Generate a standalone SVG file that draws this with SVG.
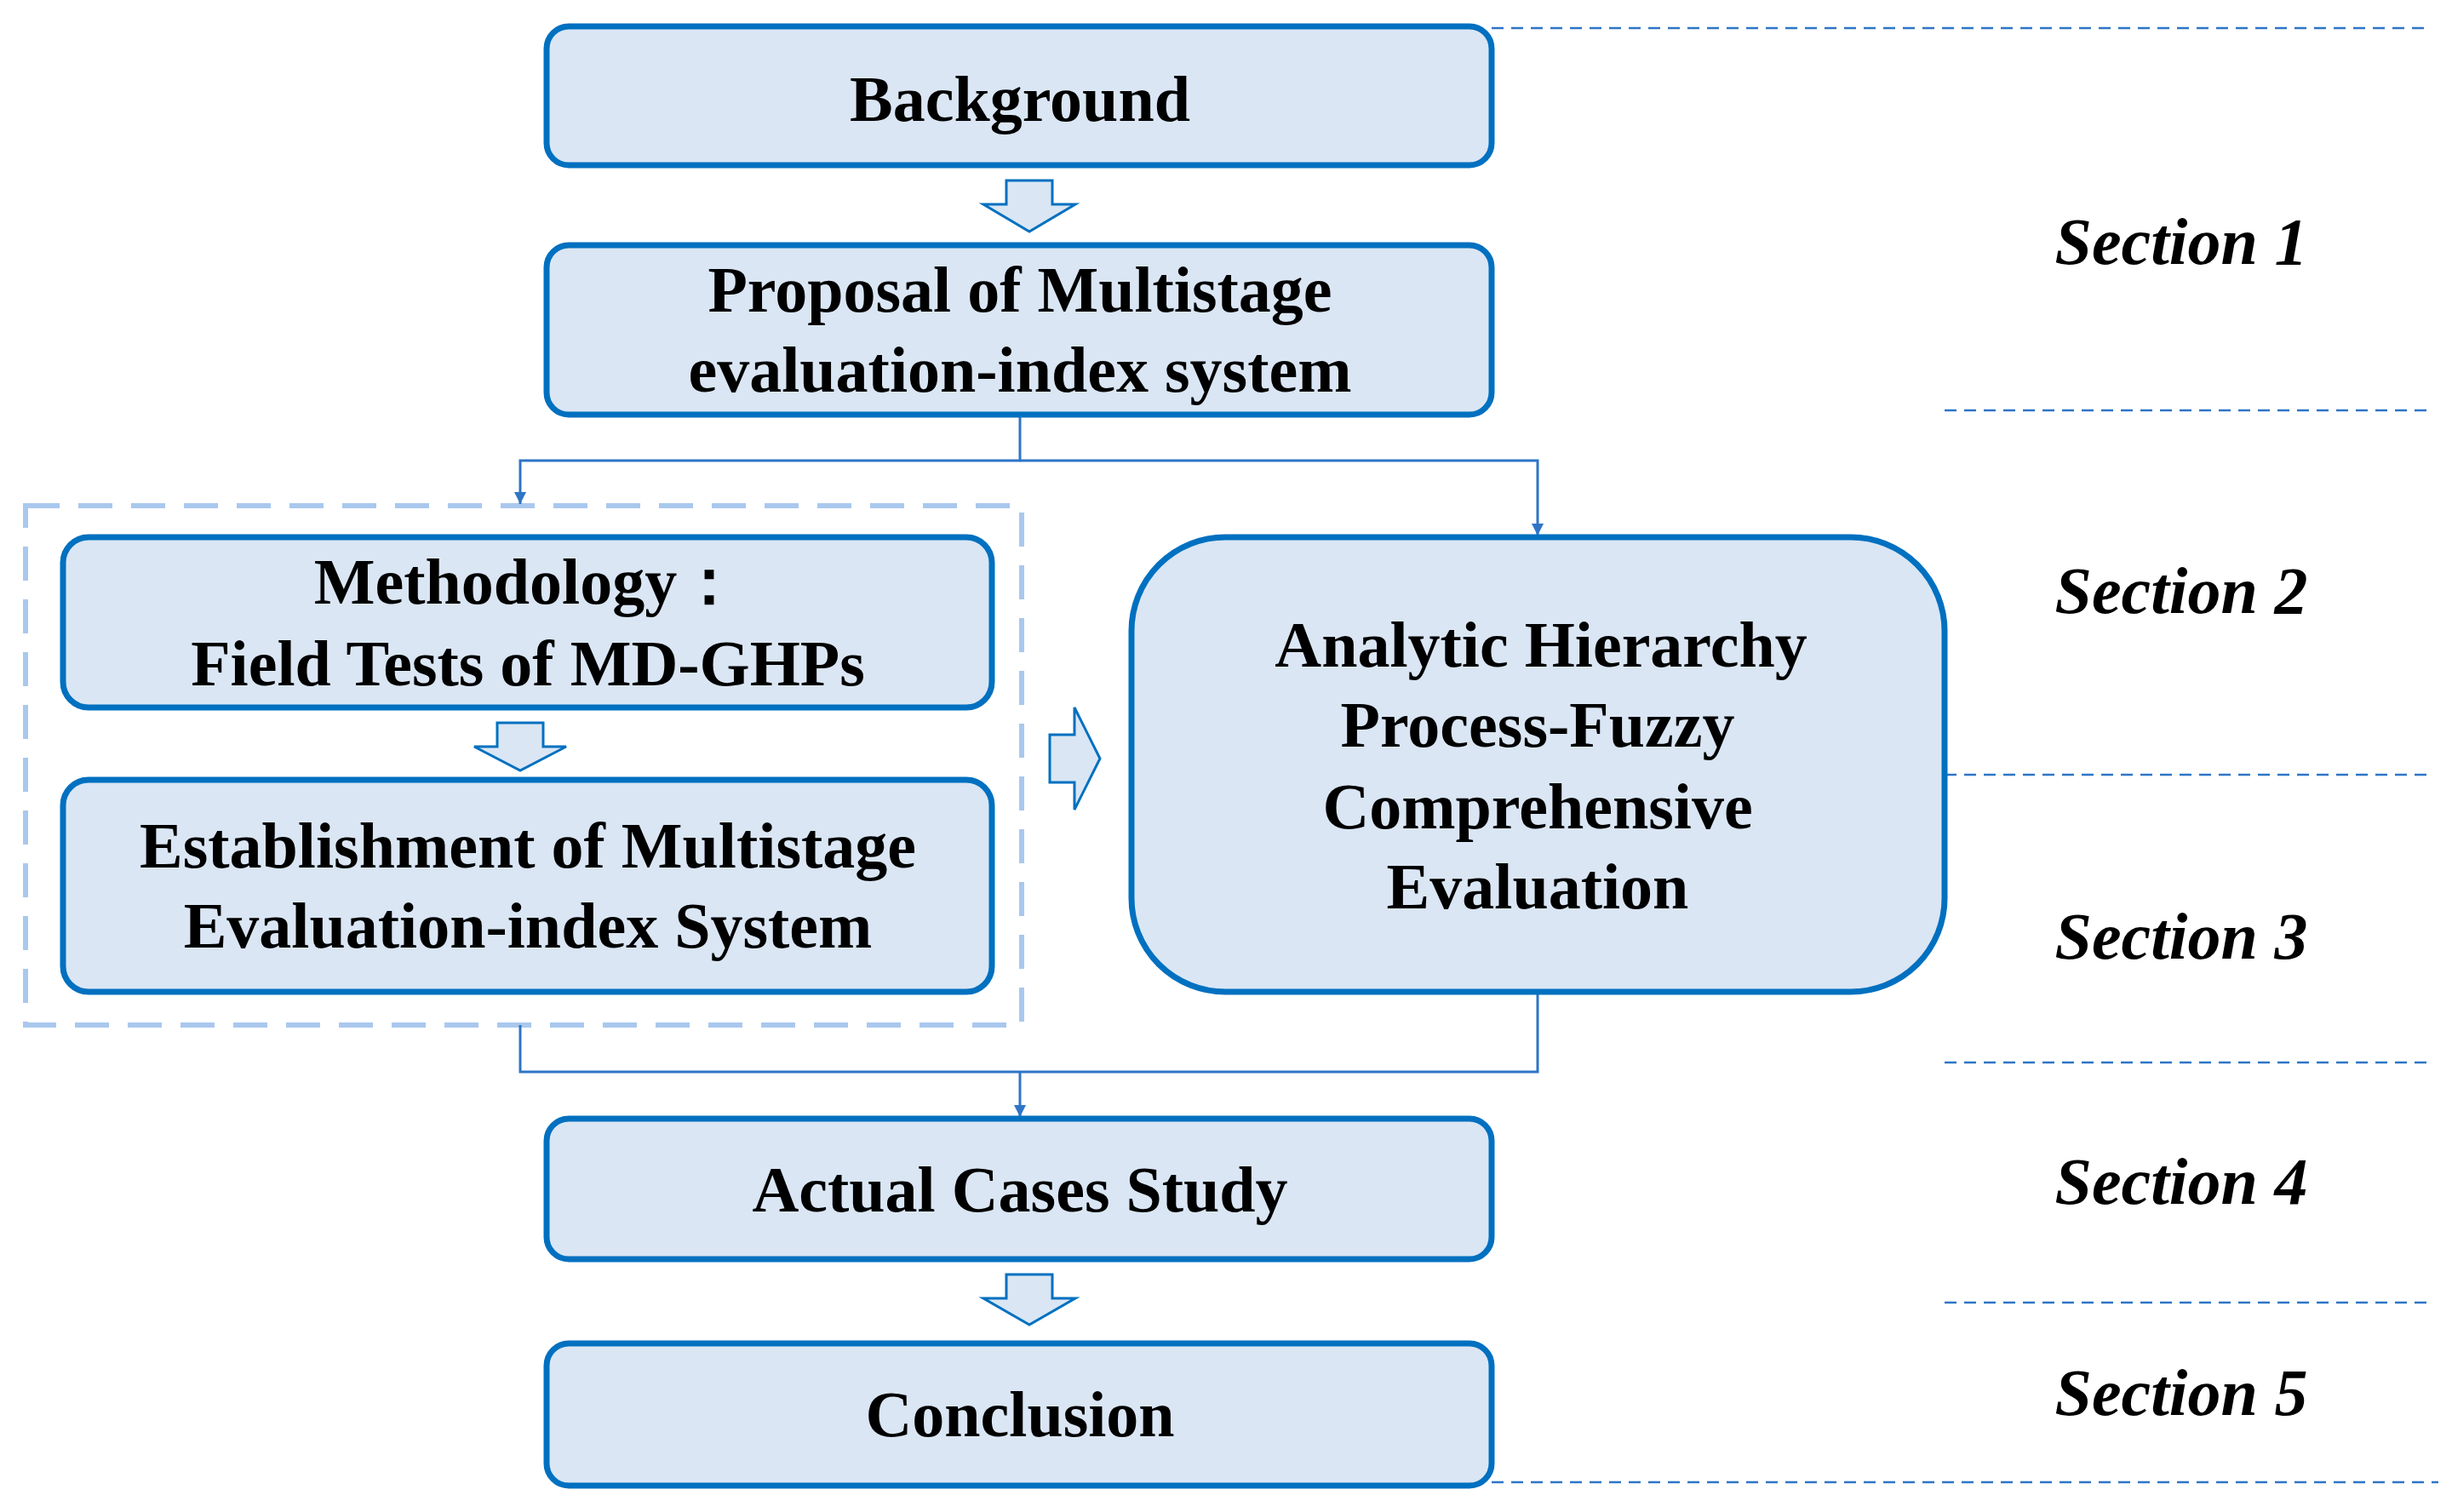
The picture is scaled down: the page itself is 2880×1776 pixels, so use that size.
<svg xmlns="http://www.w3.org/2000/svg" width="2880" height="1776" viewBox="0 0 2880 1776">
<defs>
<style>
.box{fill:#DAE6F4;stroke:#0070C0;stroke-width:7}
.t{font-family:"Liberation Serif",serif;font-weight:bold;font-size:76px;text-anchor:middle;fill:#000}
.s{font-family:"Liberation Serif",serif;font-weight:bold;font-style:italic;font-size:78px;text-anchor:middle;fill:#000}
.con{fill:none;stroke:#2E75C6;stroke-width:3}
.blk{fill:#DAE6F4;stroke:#0070C0;stroke-width:3;stroke-linejoin:miter}
.sep{stroke:#2E75C6;stroke-width:2.5;stroke-dasharray:14 9}
</style>
<marker id="ah" viewBox="0 0 10 10" refX="10" refY="5" markerWidth="6" markerHeight="8" markerUnits="userSpaceOnUse" orient="auto"><path d="M0,0L10,5L0,10z" fill="#2E75C6"/></marker>
<marker id="ah2" viewBox="0 0 10 10" refX="10" refY="5" markerWidth="18" markerHeight="14" markerUnits="userSpaceOnUse" orient="auto"><path d="M0,0L10,5L0,10z" fill="#2E75C6"/></marker>
</defs>
<g id="separators">
<line class="sep" x1="1752" y1="33" x2="2852" y2="33"/>
<line class="sep" x1="2284" y1="482" x2="2852" y2="482"/>
<line class="sep" x1="2284" y1="910" x2="2852" y2="910"/>
<line class="sep" x1="2284" y1="1248" x2="2852" y2="1248"/>
<line class="sep" x1="2284" y1="1530" x2="2852" y2="1530"/>
<line class="sep" x1="1752" y1="1741" x2="2864" y2="1741"/>
</g>
<g id="sections">
<text class="s" x="2562" y="310">Section 1</text>
<text class="s" x="2562" y="720">Section 2</text>
<text class="s" x="2562" y="1126">Section 3</text>
<text class="s" x="2562" y="1414">Section 4</text>
<text class="s" x="2562" y="1662">Section 5</text>
</g>
<g id="group-frame"><rect x="30" y="594" width="1170" height="610" fill="none" stroke="#A9C8EE" stroke-width="6" stroke-dasharray="40 22"/></g>
<g id="connectors">
<path class="con" d="M1198,487V541H611V592" marker-end="url(#ah2)"/>
<path class="con" d="M1198,541H1806V629" marker-end="url(#ah2)"/>
<path class="con" d="M611,1204V1259H1806V1165"/>
<path class="con" d="M1198,1259V1312" marker-end="url(#ah2)"/>
<path class="blk" d="M1182,212H1236V240H1263L1209,272L1155,240H1182Z"/>
<path class="blk" d="M584,849H638V877H665L611,905L557,877H584Z"/>
<path class="blk" d="M1182,1497H1236V1525H1263L1209,1556L1155,1525H1182Z"/>
<path class="blk" d="M1233,863H1262V831L1292,891L1262,951V919H1233Z"/>
</g>
<g id="background"><rect class="box" x="642" y="31" width="1110" height="163" rx="26"/><text class="t" x="1198" y="142">Background</text></g>
<g id="proposal"><rect class="box" x="642" y="288" width="1110" height="199" rx="26"/><text class="t" x="1198" y="366">Proposal of Multistage</text><text class="t" x="1198" y="460">evaluation-index system</text></g>
<g id="methodology"><rect class="box" x="74" y="631" width="1091" height="200" rx="30"/><text class="t" x="620" y="709">Methodology：</text><text class="t" x="620" y="805">Field Tests of MD-GHPs</text></g>
<g id="establishment"><rect class="box" x="74" y="916" width="1091" height="249" rx="30"/><text class="t" x="620" y="1019">Establishment of Multistage</text><text class="t" x="620" y="1113">Evaluation-index System</text></g>
<g id="ahp"><rect class="box" x="1329" y="631" width="955" height="534" rx="110"/><text class="t" x="1810" y="783">Analytic Hierarchy</text><text class="t" x="1806" y="877">Process-Fuzzy</text><text class="t" x="1806" y="973">Comprehensive</text><text class="t" x="1806" y="1067">Evaluation</text></g>
<g id="cases"><rect class="box" x="642" y="1314" width="1110" height="165" rx="26"/><text class="t" x="1198" y="1423">Actual Cases Study</text></g>
<g id="conclusion"><rect class="box" x="642" y="1578" width="1110" height="167" rx="26"/><text class="t" x="1198" y="1687">Conclusion</text></g>
</svg>
